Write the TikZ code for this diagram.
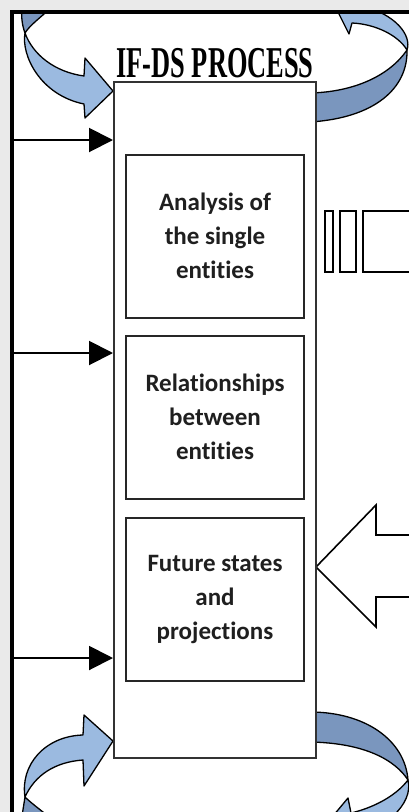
\documentclass[tikz,border=0pt]{standalone}
\usepackage{fontspec}
\setmainfont{Carlito}[Ligatures=NoCommon]
\newfontfamily\titlefont{Liberation Serif}
\usetikzlibrary{arrows.meta}
\definecolor{rlight}{RGB}{155,186,224}
\definecolor{rdark}{RGB}{122,150,190}
\definecolor{bgshade}{RGB}{234,234,234}
\begin{document}
\begin{tikzpicture}[x=1pt,y=-1pt,
  ribbon/.style={line width=1.3pt, draw=black, line join=round},
  stagebox/.style={draw=black!85, line width=2pt, fill=white, minimum width=178pt, minimum height=163pt, align=center, font=\bfseries\fontsize{25}{34}\selectfont, text=black!88, inner sep=0pt},
  mainbox/.style={draw=black!80, line width=2pt, fill=white, minimum width=202pt, minimum height=676pt, inner sep=0pt},
  inarrow/.style={line width=2pt, -{Triangle[length=24pt,width=24pt]}},
  shapeline/.style={draw=black, line width=1.6pt, fill=white, line join=miter}
]
\useasboundingbox (0,0) rectangle (409,812);
\fill[bgshade] (0,0) rectangle (409,812);
\fill[white] (12,12) rectangle (409,812);
\begin{scope}
\clip (12,12) rectangle (409,812);
% top-left ribbon
\filldraw[ribbon, fill=rdark] (22,6) -- (53,6) .. controls (40,18) and (30,25) .. (25,33) .. controls (22,25) and (21,16) .. (22,6) -- cycle;
\filldraw[ribbon, fill=rlight] (25,33) .. controls (21,55) and (40,95) .. (84,104) -- (85,118) -- (113,91) -- (85,58) -- (84,76) .. controls (55,72) and (33,55) .. (25,33) -- cycle;
% top-right ribbon
\filldraw[ribbon, fill=rdark] (310,93) .. controls (355,92) and (390,75) .. (407,50) .. controls (408,88) and (375,118) .. (310,122) -- cycle;
\filldraw[ribbon, fill=rlight] (407,50) .. controls (412,35) and (395,14) .. (362,6) -- (335,6) -- (349,34) -- (352,23) .. controls (375,24) and (398,35) .. (407,50) -- cycle;
% bottom-left ribbon
\filldraw[ribbon, fill=rdark] (25,797) -- (22,816) -- (48,816) .. controls (38,808) and (30,802) .. (25,797) -- cycle;
\filldraw[ribbon, fill=rlight] (83,735) .. controls (45,736) and (20,765) .. (25,797) .. controls (35,775) and (55,762) .. (83,760) -- (84,786) -- (113,741) -- (84,715) -- cycle;
% bottom-right ribbon
\filldraw[ribbon, fill=rdark] (310,712) .. controls (365,712) and (405,740) .. (408,780) .. controls (395,760) and (365,743) .. (310,742) -- cycle;
\filldraw[ribbon, fill=rlight] (408,780) .. controls (411,792) and (405,805) .. (393,816) -- (333,816) -- (348,798) -- (351,813) .. controls (372,808) and (395,797) .. (408,780) -- cycle;
% striped arrow (tail part)
\draw[shapeline] (325,211) rectangle (333,272);
\draw[shapeline] (340,211) rectangle (356,272);
\draw[shapeline] (363,211) rectangle (420,272);
% block arrow pointing left
\draw[shapeline] (420,535) -- (376,535) -- (376,505) -- (316,567) -- (376,627) -- (376,597) -- (420,597);
\end{scope}
% main process box
\node[mainbox] (main) at (215,420) {};
\node[anchor=base, inner sep=0pt] (title) at (215,77) {\titlefont\bfseries\fontsize{44}{44}\selectfont\scalebox{0.6}[1]{IF-DS PROCESS}};
\node[stagebox] (s1) at (215,236) {Analysis of\\the single\\entities};
\node[stagebox] (s2) at (215,417) {Relationships\\between\\entities};
\node[stagebox] (s3) at (215,599) {Future states\\and\\projections};
% input arrows
\coordinate (in1) at (12,140);
\coordinate (in2) at (12,353);
\coordinate (in3) at (12,658);
\draw[inarrow] (in1) -- (in1 -| main.west);
\draw[inarrow] (in2) -- (in2 -| main.west);
\draw[inarrow] (in3) -- (in3 -| main.west);
% frame
\draw[line width=4pt, line join=miter] (12,820) -- (12,12) -- (420,12);
\end{tikzpicture}
\end{document}
